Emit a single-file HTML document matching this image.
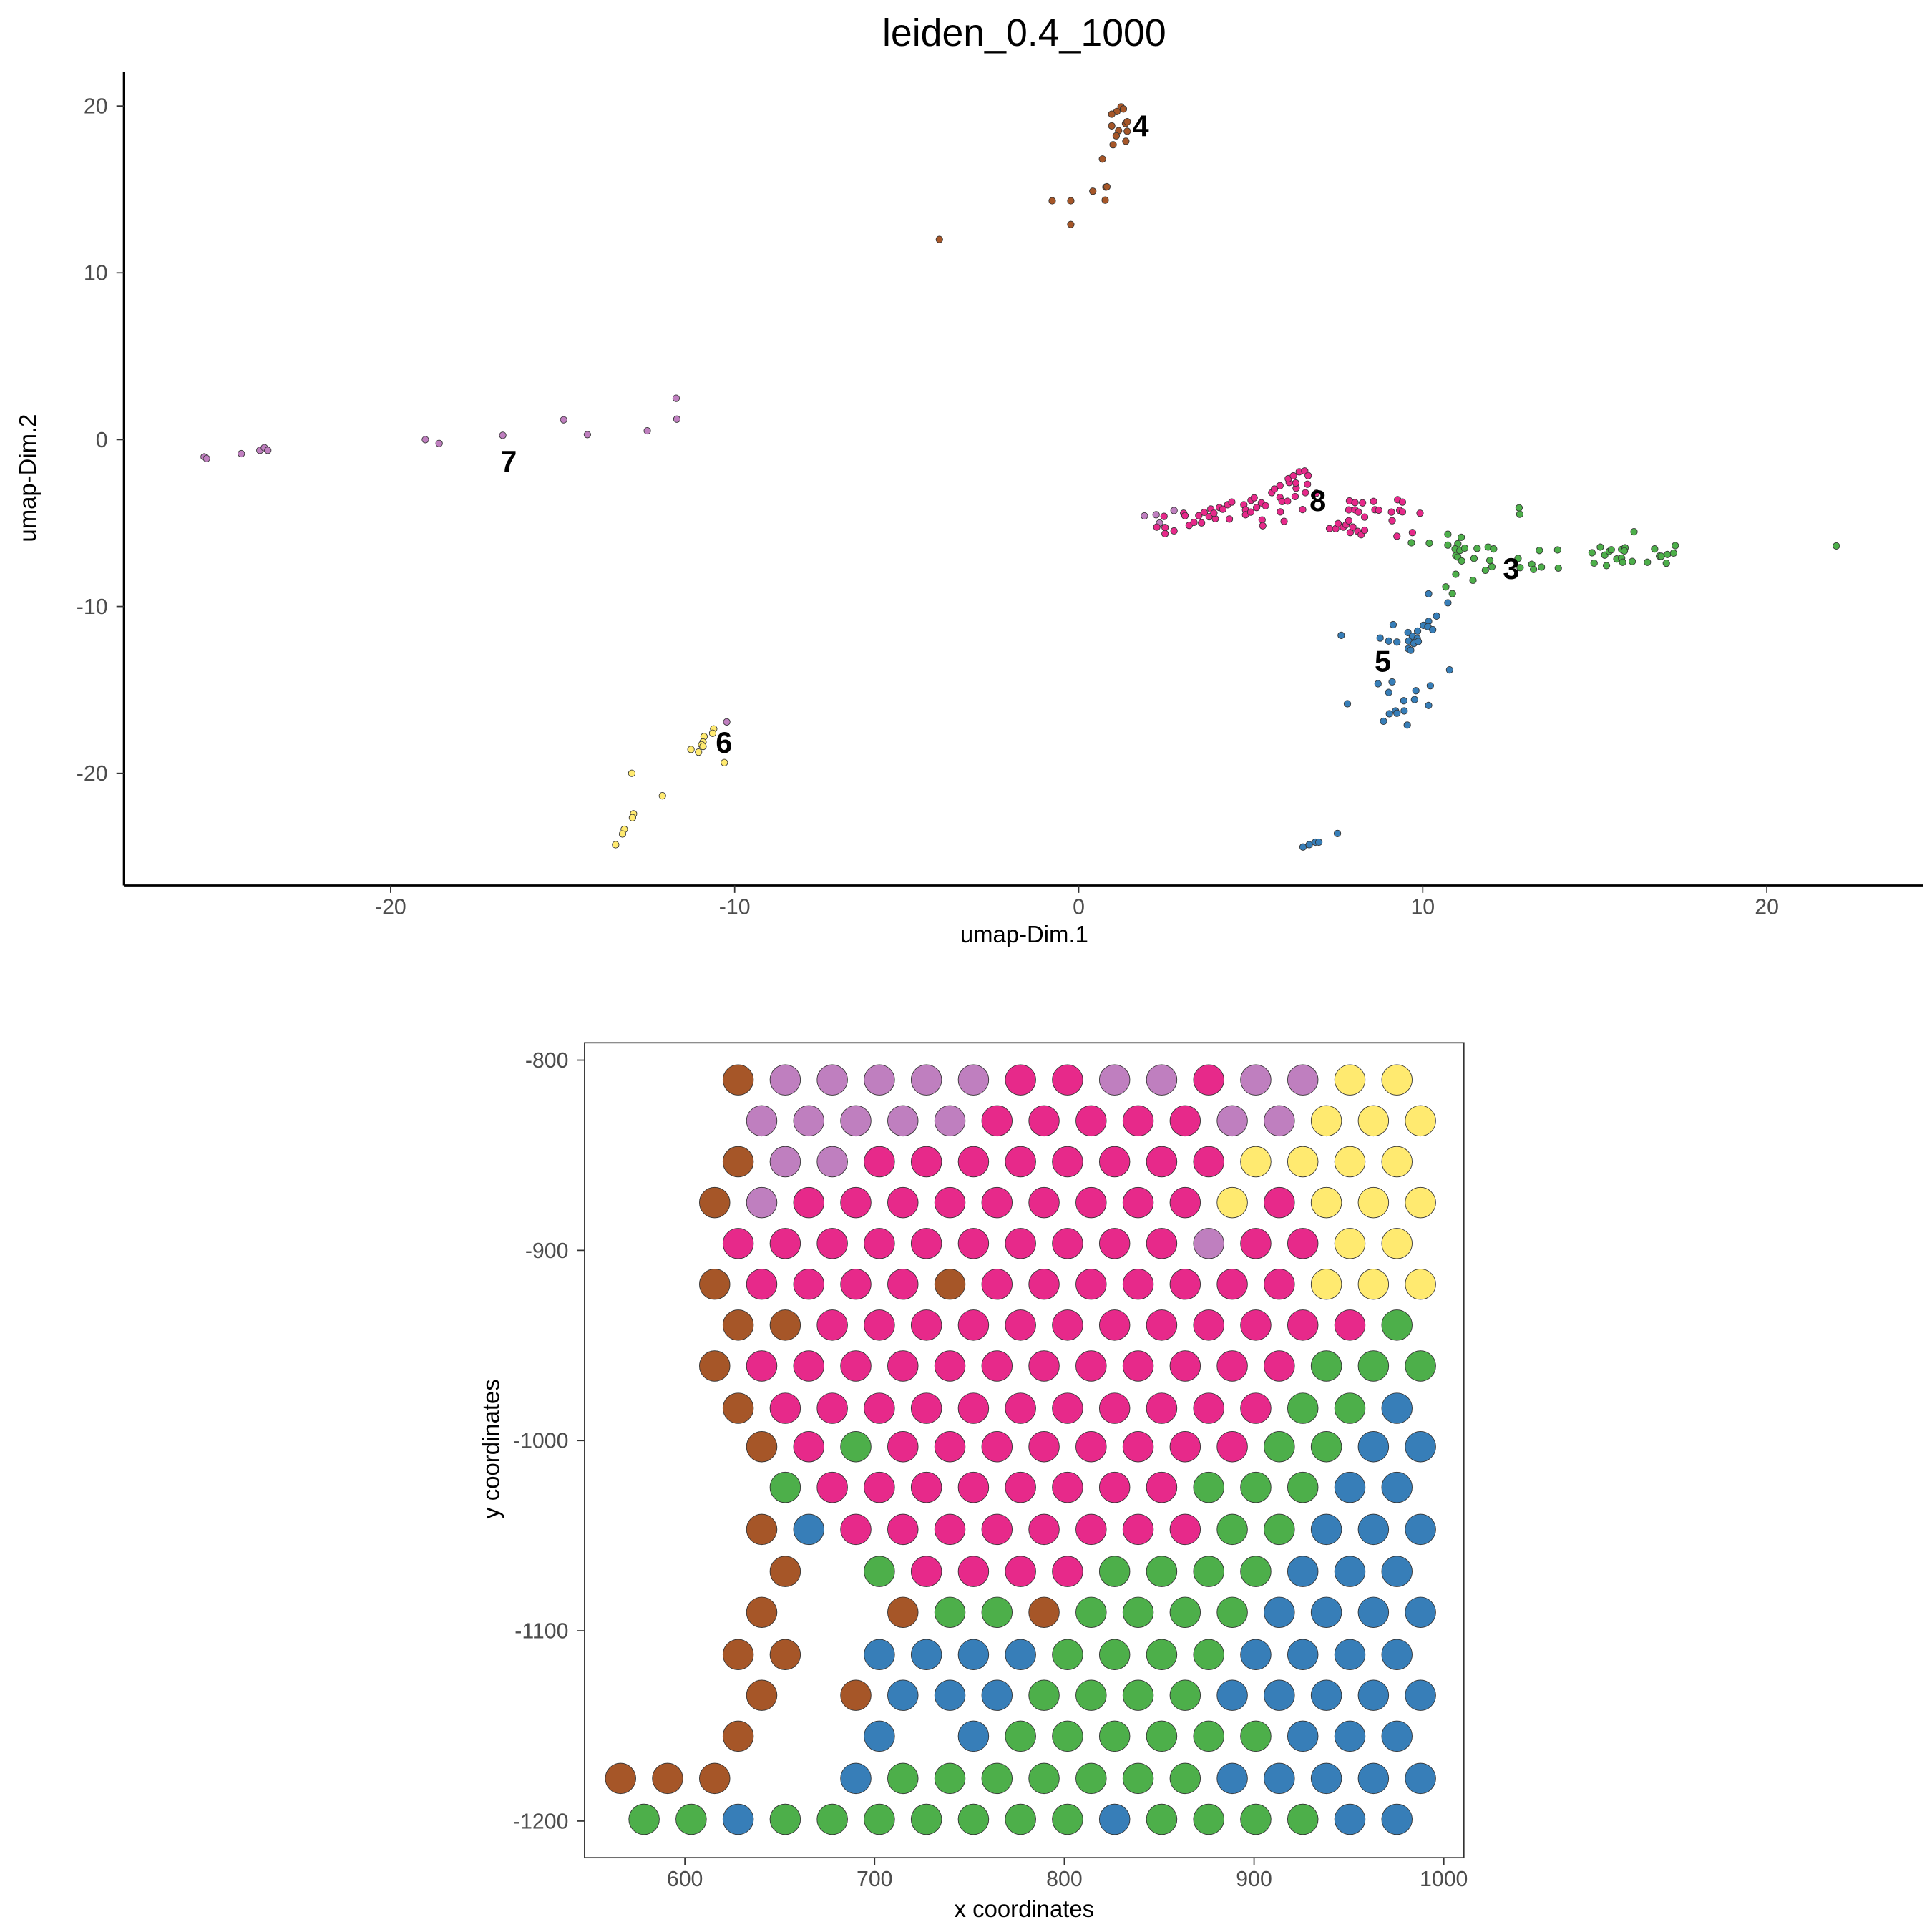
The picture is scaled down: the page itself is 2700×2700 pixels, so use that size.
<!DOCTYPE html>
<html><head><meta charset="utf-8"><style>
html,body{margin:0;padding:0;background:#fff;}
svg{display:block;font-family:"Liberation Sans",Arial,sans-serif;}
</style></head><body>
<svg id="chart" width="2700" height="2700" viewBox="0 0 1560 1560" xmlns="http://www.w3.org/2000/svg">
<rect x="0" y="0" width="1560" height="1560" fill="#fff"/>
<text x="827" y="37" font-size="31" text-anchor="middle" fill="#000">leiden_0.4_1000</text>
<g id="umap"></g>
<g id="spatial"></g>
</svg>
<script>
// ---------- UMAP data ----------
const umapXTicks = [-20, -10, 0, 10, 20];
const umapYTicks = [20, 10, 0, -10, -20];
const c4 = [[1.23,19.95],[1.30,19.82],[1.11,19.67],[0.96,19.51],[0.96,18.81],[1.16,18.52],[1.36,18.95],[1.41,19.06],[1.41,18.49],[1.09,18.21],[1.00,17.68],[1.37,17.89],[0.69,16.82],[0.79,15.14],[0.82,15.16],[0.41,14.89],[0.77,14.36],[-0.77,14.32],[-0.23,14.32],[-0.23,12.90],[-4.05,12.0]];
const c7 = [[-25.42,-1.03],[-25.35,-1.13],[-24.34,-0.84],[-23.80,-0.64],[-23.67,-0.48],[-23.57,-0.64],[-18.99,0.0],[-18.59,-0.23],[-16.74,0.26],[-14.97,1.19],[-14.28,0.30],[-12.54,0.53],[-11.70,2.48],[-11.68,1.23],[1.91,-4.57],[2.25,-4.50],[2.77,-4.25],[2.35,-5.0],[-10.23,-16.92]];
const c8 = [[2.48,-4.60],[2.51,-5.27],[2.51,-5.64],[2.77,-5.47],[2.27,-5.24],[3.05,-4.41],[3.09,-4.56],[3.21,-5.14],[3.35,-4.96],[3.49,-4.56],[3.57,-4.99],[3.65,-4.36],[3.79,-4.62],[3.84,-4.16],[3.97,-4.74],[3.93,-4.41],[4.09,-4.07],[4.19,-4.17],[4.33,-3.90],[4.45,-3.74],[4.38,-4.76],[4.80,-3.90],[4.85,-4.21],[4.85,-4.50],[5.00,-4.34],[5.01,-3.64],[5.10,-3.49],[5.17,-4.07],[5.31,-3.79],[5.43,-3.96],[5.33,-4.81],[5.35,-5.16],[5.86,-4.33],[5.97,-4.90],[5.61,-3.18],[5.69,-2.96],[5.85,-2.76],[5.85,-3.46],[5.91,-3.71],[6.07,-3.69],[6.29,-3.41],[6.12,-2.57],[6.09,-2.34],[6.24,-2.17],[6.41,-1.93],[6.57,-1.88],[6.67,-2.16],[6.65,-2.67],[6.32,-2.91],[6.31,-2.60],[6.59,-3.18],[6.51,-4.19],[6.91,-3.21],[7.87,-3.67],[8.03,-3.77],[8.25,-3.79],[8.57,-3.70],[9.27,-3.60],[9.41,-3.74],[7.85,-4.21],[8.03,-4.21],[8.13,-4.34],[8.31,-4.64],[8.61,-4.20],[8.72,-4.23],[9.09,-4.34],[9.33,-4.24],[9.41,-4.33],[9.92,-4.41],[9.11,-4.86],[7.29,-5.33],[7.47,-5.34],[7.54,-5.03],[7.69,-5.24],[7.77,-5.10],[7.85,-4.86],[7.89,-5.57],[7.97,-5.24],[8.11,-5.50],[8.21,-5.70],[8.31,-5.43],[9.25,-5.79],[9.70,-5.57]];
const c3 = [[12.80,-4.09],[12.82,-4.47],[16.14,-5.52],[22.02,-6.37],[9.67,-6.18],[10.19,-6.20],[10.73,-5.67],[11.12,-5.85],[10.73,-6.32],[11.02,-6.24],[10.94,-6.55],[11.08,-6.64],[11.22,-6.50],[11.58,-6.52],[11.90,-6.44],[12.06,-6.55],[10.96,-6.95],[11.02,-7.04],[11.13,-7.27],[11.49,-7.12],[11.95,-7.24],[12.01,-7.62],[11.82,-7.83],[10.96,-8.07],[11.46,-8.43],[10.67,-8.83],[10.86,-9.23],[12.77,-7.12],[12.83,-7.67],[13.17,-7.47],[13.22,-7.78],[13.45,-7.64],[13.39,-6.64],[13.92,-6.61],[13.94,-7.70],[14.92,-6.78],[15.16,-6.44],[15.29,-6.92],[15.42,-6.70],[15.48,-6.60],[15.78,-6.58],[15.88,-6.48],[15.86,-6.67],[15.64,-7.15],[15.78,-7.10],[15.81,-7.35],[16.09,-7.30],[14.98,-7.40],[15.34,-7.55],[16.53,-7.35],[16.74,-6.55],[16.88,-6.98],[16.93,-6.99],[17.11,-6.88],[17.29,-6.80],[17.34,-6.35],[17.08,-7.41]];
const c5 = [[10.17,-9.24],[10.73,-9.78],[10.40,-10.57],[10.17,-10.89],[10.02,-11.13],[10.15,-11.21],[10.29,-11.39],[9.14,-11.09],[9.57,-11.56],[9.85,-11.47],[9.70,-11.79],[9.84,-11.92],[9.59,-12.07],[9.74,-12.22],[9.87,-12.10],[9.58,-12.53],[9.65,-12.62],[8.76,-11.89],[9.01,-12.07],[9.25,-12.13],[7.63,-11.73],[10.78,-13.80],[9.11,-14.52],[8.70,-14.63],[10.22,-14.75],[9.80,-15.05],[9.01,-15.15],[7.81,-15.83],[9.45,-15.65],[9.76,-15.58],[10.17,-15.93],[9.46,-16.26],[9.21,-16.26],[9.03,-16.43],[9.25,-16.40],[8.86,-16.88],[9.55,-17.11],[6.52,-24.42],[6.70,-24.28],[6.88,-24.13],[6.98,-24.13],[7.52,-23.61]];
const c6 = [[-10.61,-17.34],[-10.64,-17.60],[-10.89,-17.80],[-10.92,-18.13],[-10.96,-18.29],[-10.92,-18.39],[-11.05,-18.73],[-11.27,-18.57],[-10.30,-19.36],[-12.99,-20.00],[-12.10,-21.35],[-12.94,-22.43],[-12.97,-22.66],[-13.21,-23.36],[-13.26,-23.64],[-13.46,-24.28]];
const clusterLabels = ["4","8","3","5","6","7"];
const clusterLabelPos = [[1.8,18.85],[6.95,-3.6],[12.57,-7.67],[8.84,-13.24],[-10.31,-18.1],[-16.57,-1.24]];

// ---------- Spatial data ----------
const spatialXTicks = [600, 700, 800, 900, 1000];
const spatialYTicks = [-800, -900, -1000, -1100, -1200];
const rowY = [-810.4,-831.9,-853.4,-874.9,-896.4,-917.8,-939.3,-960.8,-983.0,-1003.2,-1024.6,-1046.7,-1068.8,-1090.3,-1112.5,-1133.9,-1155.4,-1177.6,-1199.1];
const rowStartK = [1,2,1,0,1,0,1,0,1,2,3,2,3,2,1,0,1,-4,-3];
const rowCodes = ["BPPPPPMMPPMPPYY","PPPPPMMMMMPPYYY","BPPMMMMMMMMYYYY","BPMMMMMMMMMYMYYY","MMMMMMMMMMPMMYY","BMMMMBMMMMMMMYYY","BBMMMMMMMMMMMMG","BMMMMMMMMMMMMGGG","BMMMMMMMMMMMGGL","BMGMMMMMMMMGGLL","GMMMMMMMMGGGLL","BLMMMMMMMMGGLLL","B.GMMMMGGGGLLL","B..BGGBGGGGLLLL","BB.LLLLGGGGLLLL",".B.BLLLGGGGLLLLL","B..L.LGGGGGGLLL","BBB..LGGGGGGGLLLLL","GGLGGGGGGGLGGGGLL"];
const gridX0 = 615.7, gridDX = 12.4;

const colors = {B:"#A65628",P:"#BF7FBF",M:"#E7298A",Y:"#FFEA70",G:"#4DAF4A",L:"#377EB8"};
const NS = "http://www.w3.org/2000/svg";
function mk(tag, attrs, parent){const e=document.createElementNS(NS,tag);for(const k in attrs)e.setAttribute(k,attrs[k]);parent.appendChild(e);return e;}

const ux = v => 871 + v*27.78;
const uy = v => 355 - v*13.47;
const ug = document.getElementById('umap');
const uPts = mk('g',{},ug);


const series = [[c7,"P","cluster-7"],[c6,"Y","cluster-6"],[c4,"B","cluster-4"],[c5,"L","cluster-5"],[c3,"G","cluster-3"],[c8,"M","cluster-8"]];
series.forEach(s=>{
  const g = mk('g',{},uPts);
  
  
  s[0].forEach(p=>{
    const c = mk('circle',{cx:ux(p[0]),cy:uy(p[1]),r:2.7,fill:colors[s[1]],stroke:"#333",'stroke-width':0.5},g);
    
    
  });
});
clusterLabels.forEach((l,i)=>{
  const t = mk('text',{x:ux(clusterLabelPos[i][0]),y:uy(clusterLabelPos[i][1])+9,'font-size':24,'font-weight':'bold','text-anchor':'middle',fill:'#000'},ug);
  t.textContent = l;
  
  
});
let a = mk('line',{x1:100,y1:715,x2:1553,y2:715,stroke:'#000','stroke-width':1.6},ug);


a = mk('line',{x1:100,y1:58,x2:100,y2:715,stroke:'#000','stroke-width':1.6},ug);


umapXTicks.forEach(v=>{
  mk('line',{x1:ux(v),y1:715,x2:ux(v),y2:721,stroke:'#333','stroke-width':1},ug);
  const t = mk('text',{x:ux(v),y:738,'font-size':17.5,'text-anchor':'middle',fill:'#4D4D4D'},ug);
  t.textContent = v;
  
  
});
umapYTicks.forEach(v=>{
  mk('line',{x1:94,y1:uy(v),x2:100,y2:uy(v),stroke:'#333','stroke-width':1},ug);
  const t = mk('text',{x:87,y:uy(v)+6,'font-size':17.5,'text-anchor':'end',fill:'#4D4D4D'},ug);
  t.textContent = v;
  
  
});
let t = mk('text',{x:827,y:761,'font-size':19,'text-anchor':'middle',fill:'#000'},ug);
t.textContent='umap-Dim.1';


t = mk('text',{x:0,y:0,'font-size':19,'text-anchor':'middle',fill:'#000',transform:'translate(29,386) rotate(-90)'},ug);
t.textContent='umap-Dim.2';



const sx = v => 553 + (v-600)*1.532;
const sy = v => 856 + (-800 - v)*1.536;
const sg = document.getElementById('spatial');
const frame = mk('rect',{x:472,y:842,width:710,height:658,fill:'none',stroke:'#333','stroke-width':1},sg);


const spots = mk('g',{},sg);


rowCodes.forEach((codes,r)=>{
  for(let i=0;i<codes.length;i++){
    const c = codes[i];
    if(c==='.') continue;
    const k = rowStartK[r] + 2*i;
    const xv = gridX0 + gridDX*k;
    const s = mk('circle',{cx:sx(xv),cy:sy(rowY[r]),r:12.3,fill:colors[c],stroke:'#333','stroke-width':0.5},spots);
    
    
  }
});
spatialXTicks.forEach(v=>{
  mk('line',{x1:sx(v),y1:1500,x2:sx(v),y2:1506,stroke:'#333','stroke-width':1},sg);
  const tt = mk('text',{x:sx(v),y:1523,'font-size':17.5,'text-anchor':'middle',fill:'#4D4D4D'},sg);
  tt.textContent = v;
  
  
});
spatialYTicks.forEach(v=>{
  mk('line',{x1:466,y1:sy(v),x2:472,y2:sy(v),stroke:'#333','stroke-width':1},sg);
  const tt = mk('text',{x:459,y:sy(v)+6,'font-size':17.5,'text-anchor':'end',fill:'#4D4D4D'},sg);
  tt.textContent = v;
  
  
});
t = mk('text',{x:827,y:1548,'font-size':19,'text-anchor':'middle',fill:'#000'},sg);
t.textContent='x coordinates';


t = mk('text',{x:0,y:0,'font-size':19,'text-anchor':'middle',fill:'#000',transform:'translate(403,1170) rotate(-90)'},sg);
t.textContent='y coordinates';


</script>
</body></html>
